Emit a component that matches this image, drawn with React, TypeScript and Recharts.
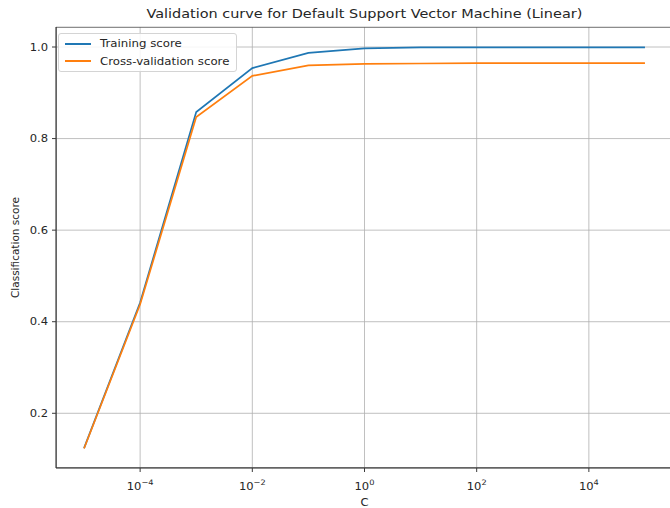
import React from 'react';
import {
  LineChart,
  Line,
  XAxis,
  YAxis,
  CartesianGrid,
  Legend,
  ReferenceArea,
} from 'recharts';

// Regularisation strengths (C) tried in the validation curve
const cValues = [1e-5, 1e-4, 1e-3, 1e-2, 1e-1, 1e0, 1e1, 1e2, 1e3, 1e4, 1e5];
// Mean training accuracy per C
const trainingScores = [0.124, 0.442, 0.858, 0.954, 0.987, 0.997, 0.999, 0.999, 0.999, 0.999, 0.999];
// Mean cross-validation accuracy per C
const crossValScores = [0.123, 0.438, 0.847, 0.937, 0.960, 0.963, 0.964, 0.965, 0.965, 0.965, 0.965];

const seriesNames = ['Training score', 'Cross-validation score'];
const seriesColors = ['#1f77b4', '#ff7f0e'];

const xTicks = [1e-4, 1e-2, 1e0, 1e2, 1e4];
const yTicks = [0.2, 0.4, 0.6, 0.8, 1.0];

const titleText = 'Validation curve for Default Support Vector Machine (Linear)';
const xLabel = 'C';
const yLabel = 'Classification score';

const data = cValues.map((c, i) => ({
  c,
  train: trainingScores[i],
  cv: crossValScores[i],
}));

const X_DOMAIN: [number, number] = [Math.pow(10, -5.5), Math.pow(10, 5.5)];
const Y_DOMAIN: [number, number] = [0.0805, 1.0437];

const FONT = '"DejaVu Sans", sans-serif';
const TEXT = '#262626';
const SPINE = '#3a3a3a';
// horizontal widening applied to the text glyphs
const STRETCH = 1.1;

function LogTick(props: any) {
  const { x, y, payload } = props;
  const exp = Math.round(Math.log10(payload.value));
  const expText = exp < 0 ? `\u2212${Math.abs(exp)}` : `${exp}`;
  return (
    <text
      x={x}
      y={y + 16}
      textAnchor="middle"
      fontFamily={FONT}
      fontSize={10.5}
      fill={TEXT}
      transform={`matrix(${STRETCH},0,0,1,${(1 - STRETCH) * x},0)`}
    >
      <tspan>10</tspan>
      <tspan dy={-5} fontSize={7.5}>{expText}</tspan>
    </text>
  );
}

function ScoreTick(props: any) {
  const { x, y, payload } = props;
  const tx = x - 2;
  return (
    <text
      x={tx}
      y={y}
      dy="0.36em"
      textAnchor="end"
      fontFamily={FONT}
      fontSize={10.5}
      fill={TEXT}
      transform={`matrix(${STRETCH},0,0,1,${(1 - STRETCH) * tx},0)`}
    >
      {Number(payload.value).toFixed(1)}
    </text>
  );
}

function XAxisTitle(props: any) {
  const { viewBox } = props;
  const cx = viewBox.x + viewBox.width / 2;
  return (
    <text
      x={cx}
      y={506}
      textAnchor="middle"
      fontFamily={FONT}
      fontSize={10.5}
      fill={TEXT}
      transform={`matrix(${STRETCH},0,0,1,${(1 - STRETCH) * cx},0)`}
    >
      {xLabel}
    </text>
  );
}

function YAxisTitle() {
  const cy = 247.5;
  const cx = 15;
  return (
    <text
      x={cx}
      y={cy}
      textAnchor="middle"
      dominantBaseline="central"
      fontFamily={FONT}
      fontSize={10.5}
      fill={TEXT}
      transform={`rotate(-90, ${cx}, ${cy})`}
    >
      {yLabel}
    </text>
  );
}

function LegendBox() {
  return (
    <div
      style={{
        boxSizing: 'border-box',
        width: 179,
        height: 39,
        border: '1px solid #d4d4d4',
        borderRadius: 3,
        background: 'rgba(255,255,255,0.85)',
        padding: '1px 6px 1px 6px',
        fontFamily: FONT,
        fontSize: 10.5,
        color: TEXT,
        lineHeight: '17.6px',
      }}
    >
      {seriesNames.map((name, i) => (
        <div key={name} style={{ display: 'flex', alignItems: 'center', whiteSpace: 'nowrap' }}>
          <span
            style={{
              display: 'block',
              flex: '0 0 26px',
              width: 26,
              height: 2,
              background: seriesColors[i],
              marginRight: 9,
            }}
          />
          <span
            style={{
              display: 'inline-block',
              transform: 'scaleX(1.12)',
              transformOrigin: 'left center',
            }}
          >
            {name}
          </span>
        </div>
      ))}
    </div>
  );
}

export default function App() {
  return (
    <div
      style={{
        position: 'absolute',
        left: 0,
        top: 0,
        width: 670,
        height: 508,
        overflow: 'hidden',
        background: '#fff',
      }}
    >
      <div
        style={{
          position: 'absolute',
          left: 0,
          top: 5,
          width: 729,
          textAlign: 'center',
          fontFamily: FONT,
          fontSize: 13,
          color: TEXT,
          lineHeight: '18px',
          whiteSpace: 'nowrap',
        }}
      >
        <span style={{ display: 'inline-block', transform: 'scaleX(1.11)' }}>{titleText}</span>
      </div>
      <LineChart
        width={680}
        height={508}
        data={data}
        margin={{ top: 27, right: 7, left: 0, bottom: 0 }}
      >
        <CartesianGrid stroke="#b0b0b0" strokeWidth={0.8} />
        <XAxis
          dataKey="c"
          type="number"
          scale="log"
          domain={X_DOMAIN}
          allowDataOverflow
          ticks={xTicks}
          tick={<LogTick />}
          tickSize={4}
          height={40}
          stroke={SPINE}
          interval={0}
          label={<XAxisTitle />}
        />
        <YAxis
          type="number"
          domain={Y_DOMAIN}
          allowDataOverflow
          ticks={yTicks}
          tick={<ScoreTick />}
          tickSize={4}
          width={56}
          stroke={SPINE}
          interval={0}
          label={<YAxisTitle />}
        />
        <ReferenceArea
          x1={X_DOMAIN[0]}
          x2={X_DOMAIN[1]}
          y1={Y_DOMAIN[0]}
          y2={Y_DOMAIN[1]}
          fill="none"
          stroke={SPINE}
          strokeWidth={1}
          ifOverflow="hidden"
        />
        <Legend
          layout="vertical"
          align="center"
          verticalAlign="middle"
          content={<LegendBox />}
          wrapperStyle={{ left: 58, top: 33, width: 'auto' }}
        />
        <Line
          dataKey="train"
          name={seriesNames[0]}
          stroke={seriesColors[0]}
          strokeWidth={1.7}
          dot={false}
          isAnimationActive={false}
        />
        <Line
          dataKey="cv"
          name={seriesNames[1]}
          stroke={seriesColors[1]}
          strokeWidth={1.7}
          dot={false}
          isAnimationActive={false}
        />
      </LineChart>
    </div>
  );
}
